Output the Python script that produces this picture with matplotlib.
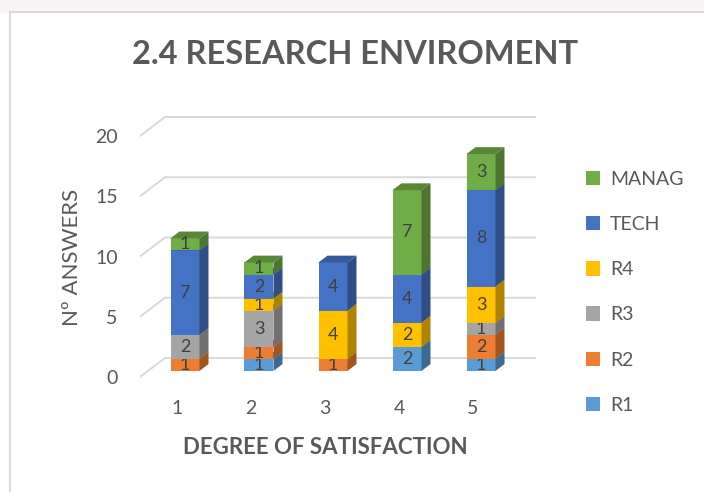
import matplotlib
matplotlib.use("Agg")
import matplotlib.pyplot as plt
from matplotlib.patches import Polygon, Patch, Rectangle
from matplotlib.lines import Line2D
import numpy as np

plt.rcParams['font.family'] = ['Lato', 'DejaVu Sans']

# data
categories = ['1', '2', '3', '4', '5']
series = ['R1', 'R2', 'R3', 'R4', 'TECH', 'MANAG']
r1 = [0, 1, 0, 2, 1]
r2 = [1, 1, 1, 0, 2]
r3 = [2, 3, 0, 0, 1]
r4 = [0, 1, 4, 2, 3]
tech = [7, 2, 4, 4, 8]
manag = [1, 1, 0, 7, 3]
values = [r1, r2, r3, r4, tech, manag]
colors = ['#5B9BD5', '#ED7D31', '#A5A5A5', '#FFC000', '#4472C4', '#70AD47']
yticks = [0, 5, 10, 15, 20]

txt = '#595959'
grid_c = '#d9d9d9'

W, H = 704, 492
fig = plt.figure(figsize=(W / 100, H / 100), dpi=100)

# faint frame like the source slide
fig.patches.append(Rectangle((0, 1 - 12 / H), 1, 12 / H, transform=fig.transFigure,
                             color='#f7f4f3', zorder=0))
fig.lines.append(Line2D([10 / W, 10 / W], [0, 1 - 12 / H], transform=fig.transFigure,
                        color=grid_c, lw=1.5))
fig.lines.append(Line2D([10 / W, 1], [1 - 12 / H, 1 - 12 / H], transform=fig.transFigure,
                        color=grid_c, lw=1.5))

ax = fig.add_axes([140 / W, (H - 390) / H, 400 / W, 280 / H])
px_x, px_y = 74.0, 12.05
ax.set_xlim(0.5, 0.5 + 400 / px_x)
ax.set_ylim(-(390 - 377) / px_y, (377 - 110) / px_y)
DX, DY = 25 / px_x, 19 / px_y   # full depth offset of the 3D box
d0, d1 = 0.32, 0.68            # bar depth range

# gridlines: side wall + back wall
for t in yticks:
    ax.plot([0.5, 0.5 + DX, 5.5 + DX], [t, t + DY, t + DY], color=grid_c, lw=1.4, zorder=0)

def shade(c, f):
    rgb = np.array(matplotlib.colors.to_rgb(c))
    return tuple(rgb * f)

x = np.arange(1, len(categories) + 1)
w = 29 / px_x
bottom = np.zeros(len(categories))
for k, (name, vals, c) in enumerate(zip(series, values, colors)):
    vals = np.array(vals, dtype=float)
    z = 2 + k
    cont = ax.bar(x + d0 * DX, vals, width=w, bottom=bottom + d0 * DY, color=c,
                  zorder=z, label=name)
    ddx, ddy = (d1 - d0) * DX, (d1 - d0) * DY
    for i in range(len(x)):
        if vals[i] == 0:
            continue
        xl = x[i] + d0 * DX - w / 2
        xr = xl + w
        yb = bottom[i] + d0 * DY
        yt = yb + vals[i]
        ax.add_patch(Polygon([(xr, yb), (xr + ddx, yb + ddy), (xr + ddx, yt + ddy), (xr, yt)],
                             closed=True, color=shade(c, 0.68), zorder=z, lw=0))
        ax.add_patch(Polygon([(xl, yt), (xr, yt), (xr + ddx, yt + ddy), (xl + ddx, yt + ddy)],
                             closed=True, color=shade(c, 0.78), zorder=z, lw=0))
    ax.bar_label(cont, labels=[str(int(v)) if v else '' for v in vals], label_type='center',
                 fontsize=13, color='#404040', zorder=z + 0.5)
    bottom += vals

ax.set_xticks(x, categories)
ax.set_yticks(yticks)
ax.tick_params(axis='x', length=0, pad=7, labelsize=14, labelcolor=txt)
ax.tick_params(axis='y', length=0, pad=16, labelsize=14, labelcolor=txt)
for s in ax.spines.values():
    s.set_visible(False)

fig.text(355 / W, 1 - 55 / H, '2.4 RESEARCH ENVIROMENT', ha='center', va='center',
         fontsize=23.5, fontweight='bold', color=txt)
fig.text(325 / W, 1 - 448 / H, 'DEGREE OF SATISFACTION', ha='center', va='center',
         fontsize=16, fontweight='bold', color=txt)
fig.text(72 / W, 1 - 257 / H, 'Nº ANSWERS', ha='center', va='center', rotation=90,
         fontsize=16, color=txt)

handles = [Patch(facecolor=c, label=n) for n, c in zip(series, colors)][::-1]
fig.legend(handles=handles, loc='upper left', bbox_to_anchor=(578 / W, 1 - 163 / H),
           frameon=False, fontsize=14, labelcolor=txt, handlelength=0.75, handleheight=0.75,
           handletextpad=0.5, labelspacing=1.45, borderaxespad=0)

fig.savefig('out.png', dpi=100)
